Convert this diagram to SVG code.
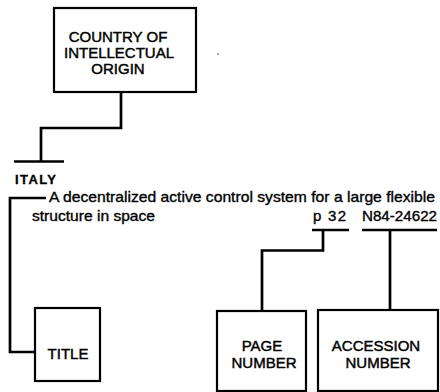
<svg xmlns="http://www.w3.org/2000/svg" width="440" height="392" viewBox="0 0 440 392">
<style>
.box{fill:#fff;stroke:#000;stroke-width:2.2}
.conn{fill:none;stroke:#000;stroke-width:2.7;stroke-linejoin:miter;stroke-linecap:butt}
.lbl{font-family:"Liberation Sans",Arial,sans-serif;font-size:15px;fill:#000;stroke:#000;stroke-width:0.45;text-anchor:middle}
.txt{font-family:"Liberation Sans",Arial,sans-serif;font-size:15px;fill:#000;stroke:#000;stroke-width:0.35}
.bold{font-family:"Liberation Sans",Arial,sans-serif;font-size:13px;font-weight:bold;letter-spacing:1.4px;fill:#000;stroke:#000;stroke-width:0.3}
</style>
<rect width="440" height="392" fill="#fff"/>
<g id="connectors">
<path class="conn" d="M121 92 V128 H41 V161"/>
<path class="conn" d="M14 161.5 H64"/>
<path class="conn" d="M46 198 H10 V352 H35"/>
<path class="conn" d="M262 311 V250.5 H323 V230"/>
<path class="conn" d="M312 230 H349"/>
<path class="conn" d="M390 310 V230"/>
<path class="conn" d="M362 230 H437"/>
</g>
<g id="country">
<rect class="box" x="54" y="8" width="142" height="84"/>
<text class="lbl" x="118" y="42">COUNTRY OF</text>
<text class="lbl" x="119" y="58">INTELLECTUAL</text>
<text class="lbl" x="118" y="74">ORIGIN</text>
</g>
<circle cx="218" cy="54" r="0.8" fill="#444"/>
<g id="italy">
<text class="bold" x="15" y="183.5">ITALY</text>
</g>
<g id="citation">
<text class="txt" x="49" y="202" textLength="386" lengthAdjust="spacingAndGlyphs">A decentralized active control system for a large flexible</text>
<text class="txt" x="32" y="221" textLength="123" lengthAdjust="spacingAndGlyphs">structure in space</text>
<text class="txt" x="313" y="221" textLength="33" lengthAdjust="spacing">p 32</text>
<text class="txt" x="362" y="221" textLength="75" lengthAdjust="spacingAndGlyphs">N84-24622</text>
</g>
<g id="title">
<rect class="box" x="35" y="308" width="65" height="73"/>
<text class="lbl" x="68" y="359">TITLE</text>
</g>
<g id="page-number">
<rect class="box" x="217" y="311" width="89" height="80"/>
<text class="lbl" x="262" y="351">PAGE</text>
<text class="lbl" x="264" y="367.5">NUMBER</text>
</g>
<g id="accession-number">
<rect class="box" x="318" y="310" width="120" height="81"/>
<text class="lbl" x="376" y="351">ACCESSION</text>
<text class="lbl" x="378" y="367.5">NUMBER</text>
</g>
</svg>
